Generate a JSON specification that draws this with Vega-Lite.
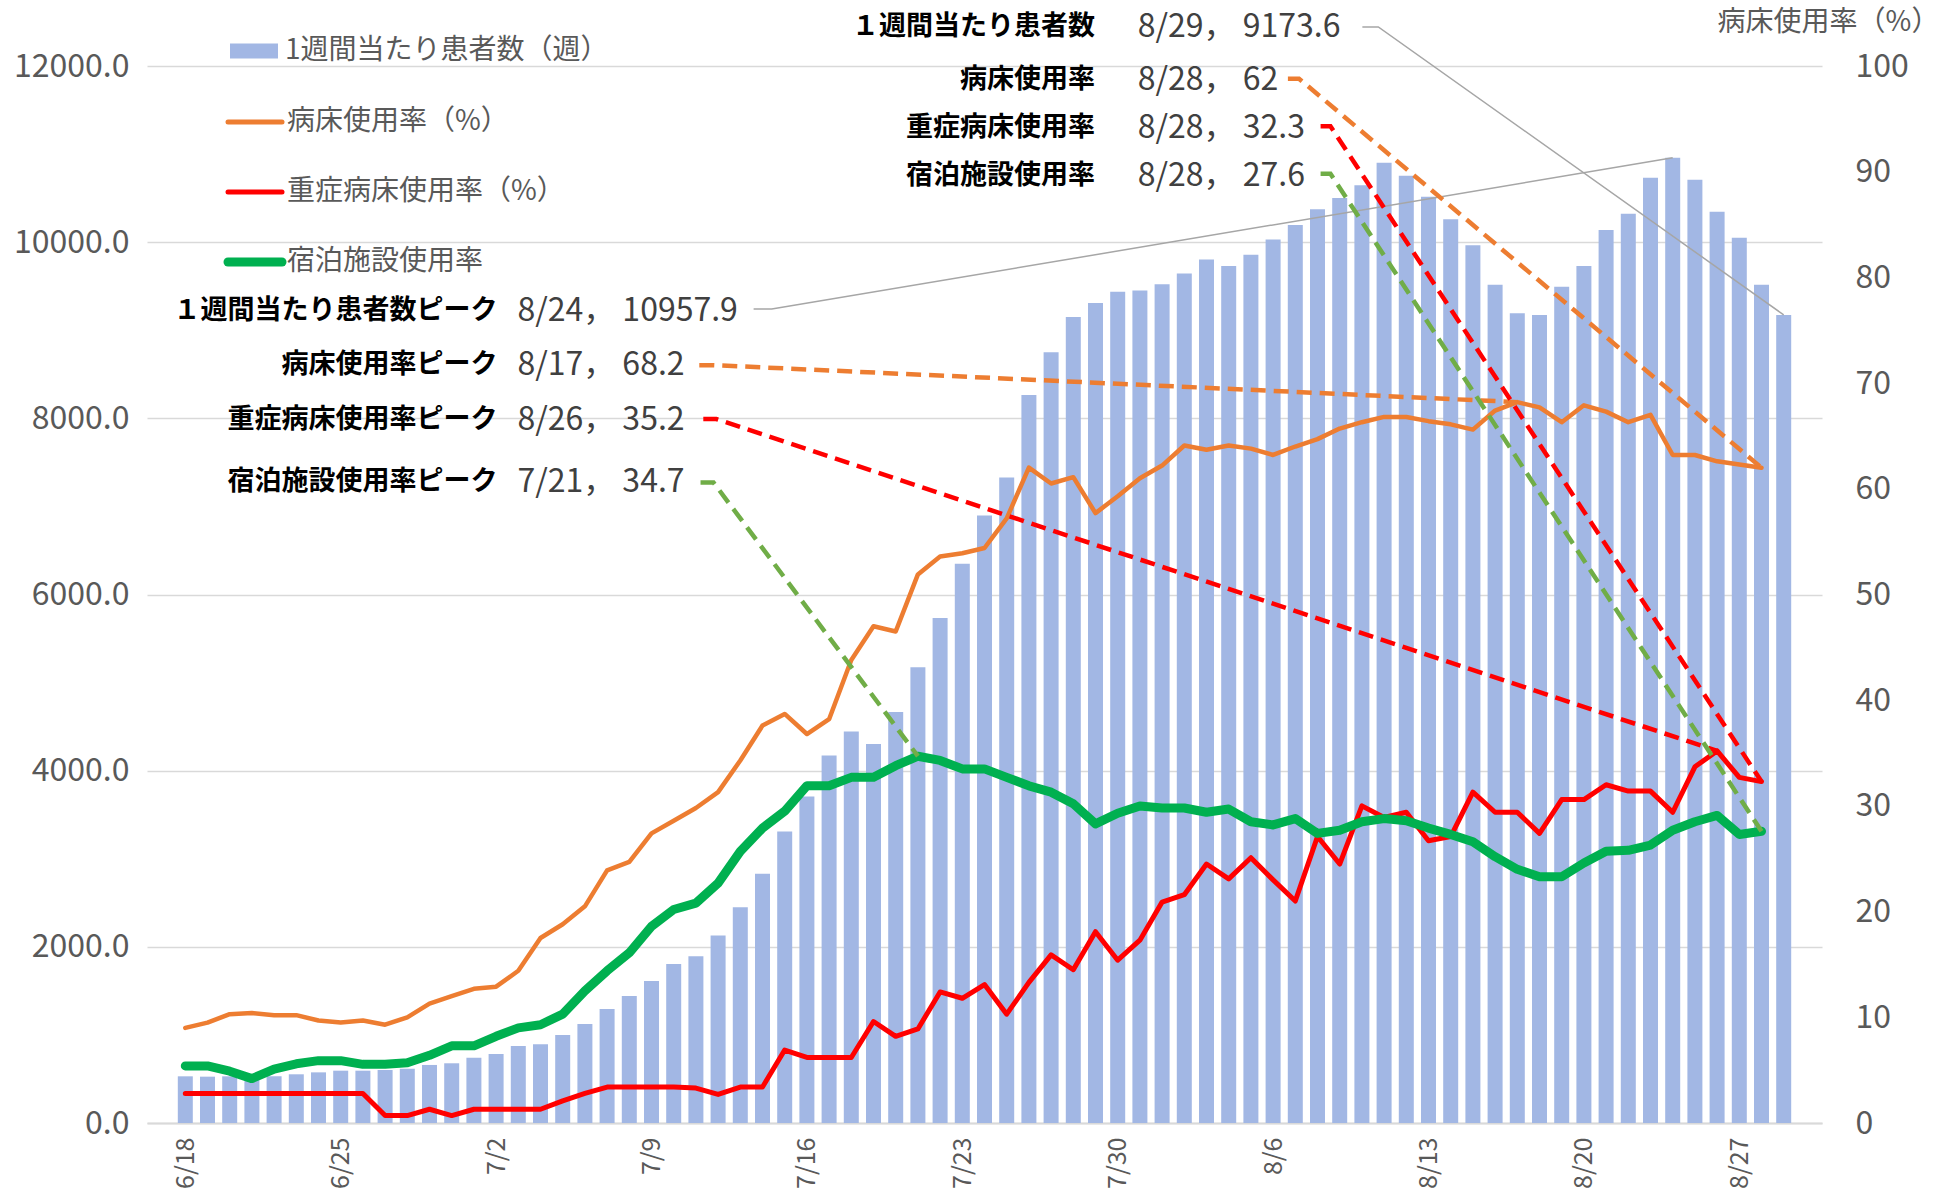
{
  "$schema": "https://vega.github.io/schema/vega-lite/v6.json",
  "width": 1675,
  "height": 1057,
  "autosize": {"type": "none"},
  "padding": {"left": 147, "top": 66, "right": 130, "bottom": 68},
  "background": "white",
  "config": {
    "view": {"stroke": null},
    "font": "Noto Sans CJK JP",
    "axis": {"labelFont": "Noto Sans CJK JP", "titleFont": "Noto Sans CJK JP"},
    "legend": {"labelFont": "Noto Sans CJK JP"}
  },
  "datasets": {
    "daily": [
      {"date":"2021/06/18","cases":530,"bed":9.0,"severe":2.8,"hotel":5.4},
      {"date":"2021/06/19","cases":526,"bed":9.5,"severe":2.8,"hotel":5.4},
      {"date":"2021/06/20","cases":530,"bed":10.3,"severe":2.8,"hotel":4.9},
      {"date":"2021/06/21","cases":522,"bed":10.4,"severe":2.8,"hotel":4.2},
      {"date":"2021/06/22","cases":530,"bed":10.2,"severe":2.8,"hotel":5.1},
      {"date":"2021/06/23","cases":553,"bed":10.2,"severe":2.8,"hotel":5.6},
      {"date":"2021/06/24","cases":575,"bed":9.7,"severe":2.8,"hotel":5.9},
      {"date":"2021/06/25","cases":594,"bed":9.5,"severe":2.8,"hotel":5.9},
      {"date":"2021/06/26","cases":594,"bed":9.7,"severe":2.8,"hotel":5.55},
      {"date":"2021/06/27","cases":602,"bed":9.3,"severe":0.7,"hotel":5.55},
      {"date":"2021/06/28","cases":617,"bed":10.0,"severe":0.7,"hotel":5.7},
      {"date":"2021/06/29","cases":659,"bed":11.3,"severe":1.3,"hotel":6.4},
      {"date":"2021/06/30","cases":678,"bed":12.0,"severe":0.7,"hotel":7.3},
      {"date":"2021/07/01","cases":742,"bed":12.7,"severe":1.3,"hotel":7.3},
      {"date":"2021/07/02","cases":783,"bed":12.9,"severe":1.3,"hotel":8.2},
      {"date":"2021/07/03","cases":874,"bed":14.4,"severe":1.3,"hotel":9.0},
      {"date":"2021/07/04","cases":893,"bed":17.5,"severe":1.3,"hotel":9.3},
      {"date":"2021/07/05","cases":999,"bed":18.8,"severe":2.1,"hotel":10.3},
      {"date":"2021/07/06","cases":1124,"bed":20.5,"severe":2.8,"hotel":12.5},
      {"date":"2021/07/07","cases":1294,"bed":23.9,"severe":3.4,"hotel":14.4},
      {"date":"2021/07/08","cases":1442,"bed":24.7,"severe":3.4,"hotel":16.1},
      {"date":"2021/07/09","cases":1612,"bed":27.4,"severe":3.4,"hotel":18.6},
      {"date":"2021/07/10","cases":1805,"bed":28.6,"severe":3.4,"hotel":20.2},
      {"date":"2021/07/11","cases":1892,"bed":29.8,"severe":3.3,"hotel":20.8},
      {"date":"2021/07/12","cases":2128,"bed":31.3,"severe":2.7,"hotel":22.7},
      {"date":"2021/07/13","cases":2450,"bed":34.3,"severe":3.4,"hotel":25.7},
      {"date":"2021/07/14","cases":2829,"bed":37.6,"severe":3.4,"hotel":27.9},
      {"date":"2021/07/15","cases":3308,"bed":38.7,"severe":6.9,"hotel":29.5},
      {"date":"2021/07/16","cases":3708,"bed":36.8,"severe":6.2,"hotel":31.9},
      {"date":"2021/07/17","cases":4173,"bed":38.2,"severe":6.2,"hotel":31.9},
      {"date":"2021/07/18","cases":4445,"bed":43.8,"severe":6.2,"hotel":32.7},
      {"date":"2021/07/19","cases":4302,"bed":47.0,"severe":9.6,"hotel":32.7},
      {"date":"2021/07/20","cases":4667,"bed":46.5,"severe":8.2,"hotel":33.8},
      {"date":"2021/07/21","cases":5175,"bed":51.9,"severe":8.9,"hotel":34.7},
      {"date":"2021/07/22","cases":5733,"bed":53.6,"severe":12.4,"hotel":34.3},
      {"date":"2021/07/23","cases":6348,"bed":53.9,"severe":11.8,"hotel":33.5},
      {"date":"2021/07/24","cases":6898,"bed":54.4,"severe":13.1,"hotel":33.5},
      {"date":"2021/07/25","cases":7328,"bed":57.2,"severe":10.3,"hotel":32.7},
      {"date":"2021/07/26","cases":8264,"bed":62.0,"severe":13.3,"hotel":31.9},
      {"date":"2021/07/27","cases":8750,"bed":60.5,"severe":15.9,"hotel":31.3},
      {"date":"2021/07/28","cases":9151,"bed":61.1,"severe":14.5,"hotel":30.2},
      {"date":"2021/07/29","cases":9308,"bed":57.7,"severe":18.1,"hotel":28.3},
      {"date":"2021/07/30","cases":9437,"bed":59.3,"severe":15.4,"hotel":29.3},
      {"date":"2021/07/31","cases":9451,"bed":61.0,"severe":17.3,"hotel":30.0},
      {"date":"2021/08/01","cases":9523,"bed":62.2,"severe":20.9,"hotel":29.8},
      {"date":"2021/08/02","cases":9645,"bed":64.1,"severe":21.6,"hotel":29.8},
      {"date":"2021/08/03","cases":9802,"bed":63.7,"severe":24.5,"hotel":29.4},
      {"date":"2021/08/04","cases":9730,"bed":64.1,"severe":23.1,"hotel":29.7},
      {"date":"2021/08/05","cases":9858,"bed":63.8,"severe":25.1,"hotel":28.5},
      {"date":"2021/08/06","cases":10030,"bed":63.2,"severe":23.0,"hotel":28.2},
      {"date":"2021/08/07","cases":10194,"bed":64.0,"severe":21.0,"hotel":28.8},
      {"date":"2021/08/08","cases":10373,"bed":64.7,"severe":27.1,"hotel":27.4},
      {"date":"2021/08/09","cases":10502,"bed":65.7,"severe":24.5,"hotel":27.7},
      {"date":"2021/08/10","cases":10645,"bed":66.3,"severe":30.0,"hotel":28.5},
      {"date":"2021/08/11","cases":10903,"bed":66.8,"severe":28.9,"hotel":28.8},
      {"date":"2021/08/12","cases":10753,"bed":66.8,"severe":29.4,"hotel":28.6},
      {"date":"2021/08/13","cases":10516,"bed":66.4,"severe":26.7,"hotel":27.9},
      {"date":"2021/08/14","cases":10259,"bed":66.1,"severe":27.1,"hotel":27.3},
      {"date":"2021/08/15","cases":9966,"bed":65.6,"severe":31.3,"hotel":26.6},
      {"date":"2021/08/16","cases":9516,"bed":67.4,"severe":29.4,"hotel":25.2},
      {"date":"2021/08/17","cases":9194,"bed":68.2,"severe":29.4,"hotel":24.0},
      {"date":"2021/08/18","cases":9172,"bed":67.7,"severe":27.4,"hotel":23.3},
      {"date":"2021/08/19","cases":9494,"bed":66.3,"severe":30.6,"hotel":23.3},
      {"date":"2021/08/20","cases":9730,"bed":67.9,"severe":30.6,"hotel":24.6},
      {"date":"2021/08/21","cases":10137,"bed":67.3,"severe":32.0,"hotel":25.7},
      {"date":"2021/08/22","cases":10323,"bed":66.3,"severe":31.4,"hotel":25.8},
      {"date":"2021/08/23","cases":10731,"bed":67.0,"severe":31.4,"hotel":26.3},
      {"date":"2021/08/24","cases":10957.9,"bed":63.2,"severe":29.4,"hotel":27.7},
      {"date":"2021/08/25","cases":10709,"bed":63.2,"severe":33.7,"hotel":28.5},
      {"date":"2021/08/26","cases":10344,"bed":62.6,"severe":35.2,"hotel":29.1},
      {"date":"2021/08/27","cases":10051,"bed":62.3,"severe":32.7,"hotel":27.3},
      {"date":"2021/08/28","cases":9516,"bed":62.0,"severe":32.3,"hotel":27.6},
      {"date":"2021/08/29","cases":9173.6,"bed":null,"severe":null,"hotel":null}
    ],
    "leaders": [
      {"series":"cases","kind":"peak","step":1,"date":"2021/07/13 14:24","pct":77.0},
      {"series":"cases","kind":"peak","step":2,"date":"2021/07/14 10:00","pct":77.0},
      {"series":"cases","kind":"peak","step":3,"date":"2021/08/24 00:00","pct":91.32},
      {"series":"cases","kind":"now","step":1,"date":"2021/08/10 00:30","pct":103.7},
      {"series":"cases","kind":"now","step":2,"date":"2021/08/10 17:45","pct":103.7},
      {"series":"cases","kind":"now","step":3,"date":"2021/08/29 00:00","pct":76.45},
      {"series":"bed","kind":"peak","step":1,"date":"2021/07/11 03:40","pct":71.7},
      {"series":"bed","kind":"peak","step":2,"date":"2021/07/11 19:00","pct":71.7},
      {"series":"bed","kind":"peak","step":3,"date":"2021/08/17 00:00","pct":68.2},
      {"series":"bed","kind":"now","step":1,"date":"2021/08/06 16:00","pct":98.8},
      {"series":"bed","kind":"now","step":2,"date":"2021/08/07 04:00","pct":98.8},
      {"series":"bed","kind":"now","step":3,"date":"2021/08/28 00:00","pct":62.0},
      {"series":"severe","kind":"peak","step":1,"date":"2021/07/11 08:00","pct":66.6},
      {"series":"severe","kind":"peak","step":2,"date":"2021/07/11 22:00","pct":66.6},
      {"series":"severe","kind":"peak","step":3,"date":"2021/08/26 00:00","pct":35.2},
      {"series":"severe","kind":"now","step":1,"date":"2021/08/08 03:20","pct":94.3},
      {"series":"severe","kind":"now","step":2,"date":"2021/08/08 14:00","pct":94.3},
      {"series":"severe","kind":"now","step":3,"date":"2021/08/28 00:00","pct":32.3},
      {"series":"hotel","kind":"peak","step":1,"date":"2021/07/11 05:00","pct":60.6},
      {"series":"hotel","kind":"peak","step":2,"date":"2021/07/11 19:00","pct":60.6},
      {"series":"hotel","kind":"peak","step":3,"date":"2021/07/21 00:00","pct":34.7},
      {"series":"hotel","kind":"now","step":1,"date":"2021/08/08 03:20","pct":89.8},
      {"series":"hotel","kind":"now","step":2,"date":"2021/08/08 14:00","pct":89.8},
      {"series":"hotel","kind":"now","step":3,"date":"2021/08/28 00:00","pct":27.6}
    ],
    "notes": [
      {"label":"１週間当たり患者数ピーク","value":"8/24， 10957.9","labelDate":"2021/07/02 01:30","valueDate":"2021/07/02 23:00","pct":76.8},
      {"label":"病床使用率ピーク","value":"8/17， 68.2","labelDate":"2021/07/02 01:30","valueDate":"2021/07/02 23:00","pct":71.7},
      {"label":"重症病床使用率ピーク","value":"8/26， 35.2","labelDate":"2021/07/02 01:30","valueDate":"2021/07/02 23:00","pct":66.5},
      {"label":"宿泊施設使用率ピーク","value":"7/21， 34.7","labelDate":"2021/07/02 01:30","valueDate":"2021/07/02 23:00","pct":60.6},
      {"label":"１週間当たり患者数","value":"8/29， 9173.6","labelDate":"2021/07/28 23:30","valueDate":"2021/07/30 21:40","pct":103.7},
      {"label":"病床使用率","value":"8/28， 62","labelDate":"2021/07/28 23:30","valueDate":"2021/07/30 21:40","pct":98.7},
      {"label":"重症病床使用率","value":"8/28， 32.3","labelDate":"2021/07/28 23:30","valueDate":"2021/07/30 21:40","pct":94.1},
      {"label":"宿泊施設使用率","value":"8/28， 27.6","labelDate":"2021/07/28 23:30","valueDate":"2021/07/30 21:40","pct":89.6}
    ]
  },
  "encoding": {
    "x": {
      "field": "date", "type": "temporal", "title": null,
      "scale": {"domain": [{"year":2021,"month":6,"date":16,"hours":12},{"year":2021,"month":8,"date":30,"hours":12}]},
      "axis": {
        "title": null,
        "values": [
          {"year":2021,"month":6,"date":18},{"year":2021,"month":6,"date":25},
          {"year":2021,"month":7,"date":2},{"year":2021,"month":7,"date":9},
          {"year":2021,"month":7,"date":16},{"year":2021,"month":7,"date":23},
          {"year":2021,"month":7,"date":30},{"year":2021,"month":8,"date":6},
          {"year":2021,"month":8,"date":13},{"year":2021,"month":8,"date":20},
          {"year":2021,"month":8,"date":27}
        ],
        "format": "%-m/%-d",
        "labelAngle": -90,
        "labelPadding": 14,
        "labelFontSize": 25,
        "labelColor": "#595959",
        "ticks": false,
        "grid": false,
        "domainColor": "#D9D9D9",
        "domainWidth": 2
      }
    }
  },
  "layer": [
    {
      "data": {"name": "daily"},
      "mark": {"type": "bar", "width": 15},
      "encoding": {
        "y": {
          "field": "cases", "type": "quantitative",
          "scale": {"domain": [0, 12000]},
          "axis": {
            "title": null,
            "orient": "left",
            "values": [0, 2000, 4000, 6000, 8000, 10000, 12000],
            "format": ".1f",
            "grid": true,
            "gridColor": "#D9D9D9",
            "gridWidth": 1.5,
            "domain": false,
            "ticks": false,
            "labelPadding": 18,
            "labelFontSize": 32,
            "labelColor": "#595959"
          }
        },
        "fill": {
          "datum": "1週間当たり患者数（週）", "type": "nominal",
          "scale": {"range": ["#A2B7E4"]},
          "legend": {
            "orient": "none", "legendX": 92, "legendY": -30, "title": null, "padding": 0,
            "symbolType": "M-1.6,-0.5H1.6V0.5H-1.6Z", "symbolSize": 900, "symbolStrokeWidth": 0,
            "labelOffset": 16, "labelFontSize": 28, "labelColor": "#595959", "labelLimit": 0
          }
        }
      }
    },
    {
      "encoding": {
        "y": {
          "field": "pct", "type": "quantitative",
          "scale": {"domain": [0, 100]},
          "axis": {
            "orient": "right",
            "values": [0, 10, 20, 30, 40, 50, 60, 70, 80, 90, 100],
            "grid": false, "domain": false, "ticks": false,
            "labelPadding": 33, "labelFontSize": 32, "labelColor": "#595959",
            "title": "病床使用率（%）", "titleAngle": 0, "titleX": 6, "titleY": -44,
            "titleAlign": "center", "titleBaseline": "middle",
            "titleFontSize": 28, "titleFontWeight": "normal", "titleColor": "#595959"
          }
        }
      },
      "layer": [
        {
          "data": {"name": "daily"},
          "mark": {"type": "line", "strokeWidth": 4.5, "strokeJoin": "round", "strokeCap": "round"},
          "encoding": {
            "y": {"field": "bed", "type": "quantitative"},
            "stroke": {
              "datum": "病床使用率（%）", "type": "nominal",
              "scale": {"domain": ["病床使用率（%）", "重症病床使用率（%）", "宿泊施設使用率"], "range": ["#ED7D31", "#FF0000", "#00B050"]},
              "legend": {
                "orient": "none", "legendX": 94, "legendY": 42, "title": null, "padding": 0,
                "symbolType": "stroke", "symbolSize": 2916, "symbolStrokeWidth": 5,
                "labelOffset": 18, "labelFontSize": 28, "labelColor": "#595959", "labelLimit": 0,
                "rowPadding": 34, "gridAlign": "all",
                "encode": {"symbols": {"update": {"strokeWidth": {"signal": "datum.value === '宿泊施設使用率' ? 9 : 5"}, "strokeCap": {"value": "round"}}}}
              }
            }
          }
        },
        {
          "data": {"name": "daily"},
          "mark": {"type": "line", "strokeWidth": 5, "strokeJoin": "round", "strokeCap": "round"},
          "encoding": {
            "y": {"field": "severe", "type": "quantitative"},
            "stroke": {"datum": "重症病床使用率（%）", "type": "nominal"}
          }
        },
        {
          "data": {"name": "daily"},
          "mark": {"type": "line", "strokeWidth": 9, "strokeJoin": "round", "strokeCap": "round"},
          "encoding": {
            "y": {"field": "hotel", "type": "quantitative"},
            "stroke": {"datum": "宿泊施設使用率", "type": "nominal"}
          }
        },
        {
          "data": {"name": "leaders"},
          "transform": [{"filter": "datum.series === 'cases'"}],
          "mark": {"type": "line", "strokeWidth": 1.5, "color": "#A6A6A6"},
          "encoding": {
            "detail": {"field": "kind", "type": "nominal"},
            "order": {"field": "step", "type": "quantitative"}
          }
        },
        {
          "data": {"name": "leaders"},
          "transform": [{"filter": "datum.series === 'bed'"}],
          "mark": {"type": "line", "strokeWidth": 4.5, "color": "#ED7D31", "strokeDash": [15, 8]},
          "encoding": {
            "detail": {"field": "kind", "type": "nominal"},
            "order": {"field": "step", "type": "quantitative"}
          }
        },
        {
          "data": {"name": "leaders"},
          "transform": [{"filter": "datum.series === 'severe'"}],
          "mark": {"type": "line", "strokeWidth": 4.5, "color": "#FF0000", "strokeDash": [15, 8]},
          "encoding": {
            "detail": {"field": "kind", "type": "nominal"},
            "order": {"field": "step", "type": "quantitative"}
          }
        },
        {
          "data": {"name": "leaders"},
          "transform": [{"filter": "datum.series === 'hotel'"}],
          "mark": {"type": "line", "strokeWidth": 4.5, "color": "#70AD47", "strokeDash": [15, 8]},
          "encoding": {
            "detail": {"field": "kind", "type": "nominal"},
            "order": {"field": "step", "type": "quantitative"}
          }
        },
        {
          "data": {"name": "notes"},
          "mark": {"type": "text", "align": "right", "baseline": "middle", "fontSize": 27, "fontWeight": "bold", "color": "#000000"},
          "encoding": {
            "x": {"field": "labelDate", "type": "temporal", "title": null},
            "text": {"field": "label", "type": "nominal"}
          }
        },
        {
          "data": {"name": "notes"},
          "mark": {"type": "text", "align": "left", "baseline": "middle", "fontSize": 32, "color": "#404040"},
          "encoding": {
            "x": {"field": "valueDate", "type": "temporal", "title": null},
            "text": {"field": "value", "type": "nominal"}
          }
        }
      ]
    }
  ],
  "resolve": {"scale": {"y": "independent"}}
}
